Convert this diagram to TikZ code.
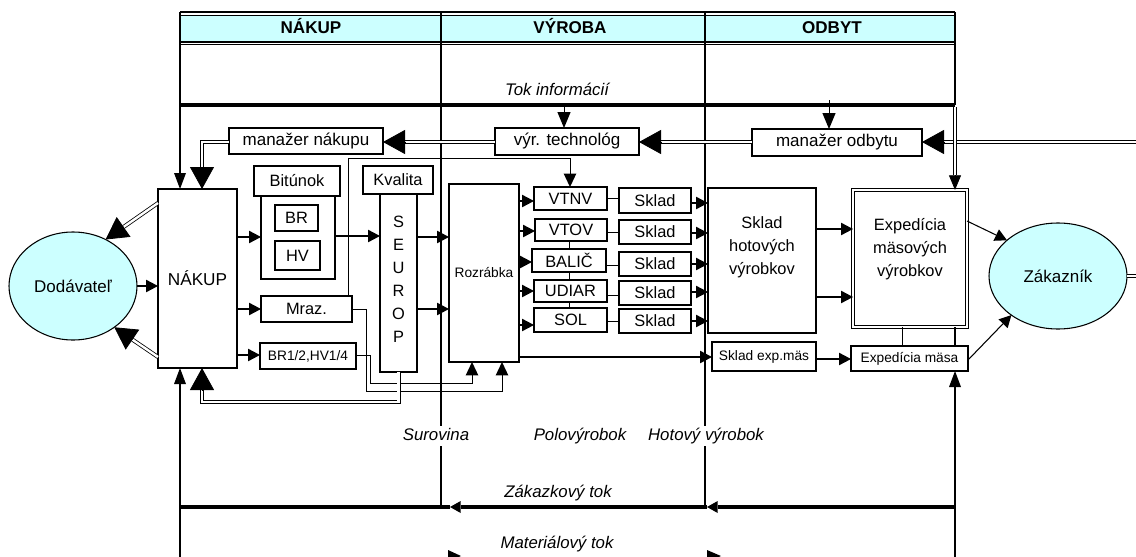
\documentclass[tikz,border=0pt]{standalone}
\usepackage{fontspec}
\setmainfont{Liberation Sans}
\usetikzlibrary{arrows.meta,calc,shapes.geometric}
\definecolor{lcyan}{HTML}{CCFFFF}
\begin{document}
\begin{tikzpicture}[x=0.75pt,y=-0.75pt,
  every node/.style={inner sep=0pt, outer sep=0pt},
  sz/.style 2 args={minimum width=#1*0.75pt, minimum height=#2*0.75pt},
  box/.style={draw, line width=0.8pt, fill=white, inner sep=0pt, align=center, font=\fontsize{12.3}{17}\selectfont},
  sbox/.style={box, font=\fontsize{10.3}{12}\selectfont},
  mbox/.style={box, font=\fontsize{12.75}{15}\selectfont},
  lbl/.style={font=\fontsize{12.6}{15}\selectfont\itshape, fill=white, inner sep=1.5pt, text height=9.5pt, text depth=2.7pt},
  txt/.style={font=\fontsize{12.3}{17.25}\selectfont, align=center},
  hdr/.style={font=\fontsize{12.8}{15}\selectfont\bfseries, anchor=base},
  frame/.style={line width=1.5pt},
  thin/.style={line width=0.7pt},
  arr/.style={line width=0.8pt, -{Triangle[length=9pt,width=9.5pt,line width=0pt]}},
  larr/.style={line width=0.7pt, -{Triangle[length=10pt,width=9.5pt,line width=0pt]}},
  tarr/.style={line width=0.6pt, -{Triangle[length=12pt,width=10pt,line width=0pt]}},
  farr/.style={line width=1.5pt, -{Triangle[length=12pt,width=9pt,line width=0pt]}},
  zarr/.style={line width=3pt, -{Triangle[length=8pt,width=9pt,line width=0pt]}},
  dbl/.style={draw, line width=0.6pt, double=white, double distance=1.8pt},
  bighead/.style={line width=0.6pt, -{Triangle[length=16.5pt,width=18pt]}},
  midhead/.style={line width=0.6pt, -{Triangle[length=11pt,width=9pt]}},
  ell/.style={ellipse, draw, line width=0.8pt, fill=lcyan, inner sep=0pt, font=\fontsize{12.75}{15}\selectfont},
]
\useasboundingbox (0,0) rectangle (1136,557);
\clip (0,0) rectangle (1136,557);

% ---------- frame ----------
\fill[lcyan] (180,15.5) rectangle (955,42);
\draw[line width=1.6pt] (180,12) -- (955,12);
\draw[line width=0.8pt] (180,15.5) -- (955,15.5);
\draw[line width=0.8pt] (180,42) -- (955,42);
\draw[line width=0.8pt] (180,44.8) -- (955,44.8);
\draw[line width=2.6pt] (180,105) -- (955,105);
\draw[frame] (441,12) -- (441,507);
\draw[frame] (705,12) -- (705,507);
\draw[frame] (955,12) -- (955,105);

\coordinate (zr) at (955,507);
\coordinate (z2) at (707,507);
\coordinate (z1) at (450,507);
\coordinate (zl) at (180,507);
\draw[zarr] (zr) -- (z2);
\draw[zarr] (z2) -- (z1);
\draw[line width=3pt] (z1) -- (zl);

\fill (448,550) -- (461,556) -- (448,562) -- cycle;
\fill (707,550) -- (721,556) -- (707,562) -- cycle;

% header labels
\node[hdr] (hn) at (311,33.5) {NÁKUP};
\node[hdr] (hv) at (570,33.5) {VÝROBA};
\node[hdr] (ho) at (832,33.5) {ODBYT};

% flow labels
\node[lbl] (ti) at (557,91) {Tok informácií};
\node[lbl] (su) at (436,436) {Surovina};
\node[lbl] (po) at (580,436) {Polovýrobok};
\node[lbl] (hvy) at (706,436) {Hotový výrobok};
\node[lbl] (zt) at (558,493) {Zákazkový tok};
\node[lbl] (mt) at (557,544) {Materiálový tok};

% ---------- nodes ----------
\node[ell, minimum width=96pt, minimum height=81pt] (dod) at (73,286) {Dodávateľ};
\node[ell, minimum width=103.5pt, minimum height=79.5pt] (zak) at (1058,276) {Zákazník};

\node[box, sz={79}{179}, font=\fontsize{12.9}{15}\selectfont] (nakup) at (197.5,278.5) {NÁKUP};
\node[mbox, sz={154}{26}] (mn) at (306,141) {manažer nákupu};
\node[mbox, sz={144}{27}] (vt) at (567,141.5) {výr. technológ};
\node[mbox, sz={170}{27}] (mo) at (837,142.5) {manažer odbytu};

\node[box, sz={86}{30}] (bit) at (297,181) {Bitúnok};
\node[box, sz={74}{83}] (bitc) at (298,237.5) {};
\node[box, sz={43}{26}] (br) at (296.5,218) {BR};
\node[box, sz={45}{29}] (hvb) at (297.5,255.5) {HV};
\node[box, sz={70}{28}] (kval) at (398,180) {Kvalita};
\node[box, sz={37}{178}] (seu) at (398.5,283) {};
\node[txt] (seutxt) at (398.5,279) {S\\E\\U\\R\\O\\P};
\node[box, sz={91}{26}] (mraz) at (306.5,309) {Mraz.};
\node[sbox, sz={96}{26}] (brhv) at (308,356) {BR1/2,HV1/4};

\node[sbox, sz={70}{178}] (roz) at (484,273) {Rozrábka};
\node[box, sz={73}{23}] (vtnv) at (570.5,198.5) {VTNV};
\node[box, sz={72}{22}] (vtov) at (571,230) {VTOV};
\node[box, sz={74}{23}] (balic) at (569,260.5) {BALIČ};
\node[box, sz={73}{22}] (udiar) at (570.5,291) {UDIAR};
\node[box, sz={73}{24}] (sol) at (570.5,320) {SOL};
\node[box, sz={72}{25}] (sk1) at (655,200.5) {Sklad};
\node[box, sz={72}{24}] (sk2) at (655,232) {Sklad};
\node[box, sz={72}{24}] (sk3) at (655,264) {Sklad};
\node[box, sz={72}{24}] (sk4) at (655,293) {Sklad};
\node[box, sz={72}{24}] (sk5) at (655,321) {Sklad};

\node[box, sz={108}{145}] (sh) at (762,260.5) {};
\node[txt] (shtxt) at (762,247) {Sklad\\hotových\\výrobkov};
\node[sbox, sz={104}{29}] (sem) at (764,356.5) {Sklad exp.mäs};
\node[box, sz={114}{137}, double, double distance=1.5pt, line width=0.9pt] (exp) at (910,258.5) {};
\node[txt] (exptxt) at (910,249) {Expedícia\\mäsových\\výrobkov};
\node[sbox, sz={117}{25}] (em) at (909.5,358.5) {Expedícia mäsa};

% ---------- connectors ----------
\draw[arr] (dod.east) -- (nakup.west |- dod.east);
\draw[arr] (nakup.east |- 0,237) -- (bitc.west |- 0,237);
\draw[arr] (nakup.east |- 0,309) -- (mraz.west |- 0,309);
\draw[arr] (nakup.east |- 0,355) -- (brhv.west |- 0,355);
\draw[arr] (bitc.east |- 0,236) -- (seu.west |- 0,236);
\draw[arr] (seu.east |- 0,237) -- (roz.west |- 0,237);
\draw[arr] (seu.east |- 0,309) -- (roz.west |- 0,309);

\foreach \n/\y in {vtnv/201, vtov/231, balic/262, udiar/291, sol/325}
  \draw[arr] (roz.east |- 0,\y) -- (\n.west |- 0,\y);
\foreach \a/\b/\y in {vtnv/sk1/198, vtov/sk2/232, balic/sk3/265, udiar/sk4/295, sol/sk5/321}
  \draw[thin] (\a.east |- 0,\y) -- (\b.west |- 0,\y);
\foreach \b/\y in {sk1/203, sk2/233, sk3/264, sk4/292, sk5/321}
  \draw[arr] (\b.east |- 0,\y) -- (sh.west |- 0,\y);

\draw[thin] (vtov.south -| 569,0) -- (balic.north -| 569,0);
\draw[thin] (balic.south -| 569,0) -- (udiar.north -| 569,0);
\draw[thin] (udiar.south -| 569,0) -- (sol.north -| 569,0);

\draw[arr] (roz.east |- 0,357) -- (sem.west |- 0,357);
\draw[arr] (sh.east |- 0,229) -- (exp.west |- 0,229);
\draw[arr] (sh.east |- 0,297) -- (exp.west |- 0,297);
\draw[arr] (sem.east |- 0,359) -- (em.west |- 0,359);
\draw[thin] (exp.south -| 902,0) -- (em.north -| 902,0);
\draw[arr] (exp.east |- 0,221) -- (zak.145);
\draw[arr] (em.east |- 0,360) -- (zak.220);

\draw[larr] (mraz.north -| 348,0) |- (570,158) -- (vtnv.north -| 570,0);
\draw[larr] (mraz.east |- 0,309) -| (366,391) -| (roz.south -| 502,0);
\draw[larr] (brhv.east |- 0,355) -| (370,383) -| (roz.south -| 472,0);

% top information arrows
\draw[tarr] (564,106) -- (vt.north -| 564,0);
\draw[tarr] (829,100) -- (mo.north -| 829,0);

% double arrows
\coordinate (rin) at (1140,142);
\coordinate (moE) at (mo.east |- 0,142);
\draw[dbl] (rin) -- ($(moE)+(22,0)$);
\draw[bighead] ($(moE)+(22,0)$) -- (moE);

\coordinate (moW) at (mo.west |- 0,142);
\coordinate (vtE) at (vt.east |- 0,142);
\draw[dbl] (moW) -- ($(vtE)+(22,0)$);
\draw[bighead] ($(vtE)+(22,0)$) -- (vtE);

\coordinate (vtW) at (vt.west |- 0,142);
\coordinate (mnE) at (mn.east |- 0,142);
\draw[dbl] (vtW) -- ($(mnE)+(22,0)$);
\draw[bighead] ($(mnE)+(22,0)$) -- (mnE);

\coordinate (mnW) at (mn.west |- 0,142);
\coordinate (nkT) at (nakup.north -| 202,0);
\draw[dbl] (mnW) -| ($(nkT)+(0,-22)$);
\draw[bighead] ($(nkT)+(0,-22)$) -- (nkT);

\coordinate (nd1) at (nakup.west |- 0,203);
\coordinate (dt1) at (dod.55);
\draw[dbl] (nd1) -- ($(dt1)!16.5pt!(nd1)$);
\draw[bighead] ($(dt1)!16.5pt!(nd1)$) -- (dt1);

\coordinate (nd2) at (nakup.west |- 0,357);
\coordinate (dt2) at (dod.-45);
\draw[dbl] (nd2) -- ($(dt2)!16.5pt!(nd2)$);
\draw[bighead] ($(dt2)!16.5pt!(nd2)$) -- (dt2);

\coordinate (nkB) at (nakup.south -| 202,0);
\draw[dbl] (seu.south) |- (202,402) -- ($(nkB)+(0,22)$);
\draw[bighead] ($(nkB)+(0,22)$) -- (nkB);

\coordinate (exN) at (exp.north -| 955,0);
\draw[dbl] (955,107) -- ($(exN)+(0,-15)$);
\draw[midhead] ($(exN)+(0,-15)$) -- (exN);

\coordinate (zout) at (1140,276);
\draw[dbl] (zak.east) -- (zout);

% frame arrows
\draw[farr] (180,12) -- (nakup.north -| 180,0);
\draw[farr] (180,557) -- (nakup.south -| 180,0);
\draw[frame] (exp.south -| 955,0) -- (em.north -| 955,0);
\draw[farr] (955,557) -- (em.south -| 955,0);
\end{tikzpicture}
\end{document}
